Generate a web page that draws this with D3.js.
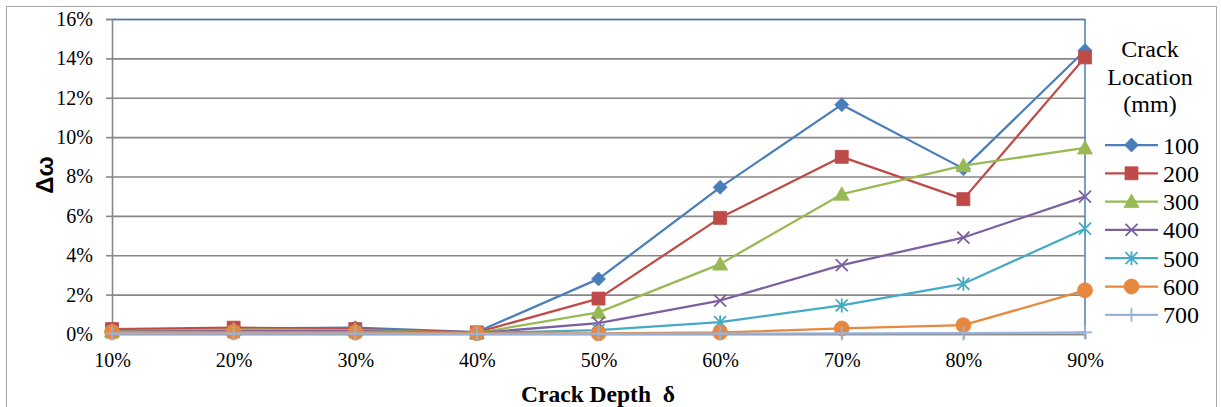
<!DOCTYPE html>
<html>
<head>
<meta charset="utf-8">
<script src="https://cdn.jsdelivr.net/npm/d3@7"></script>
<style>
  body { margin: 0; background: #fff; }
</style>
</head>
<body>
<svg id="chart" width="1221" height="407"></svg>
<script>
// crack depth categories and tick labels
const depthLabels = ['10%', '20%', '30%', '40%', '50%', '60%', '70%', '80%', '90%'];
const yTicks = [0, 0.02, 0.04, 0.06, 0.08, 0.10, 0.12, 0.14, 0.16];
const locations = ['100', '200', '300', '400', '500', '600', '700'];

// frequency change, in percent
const loc100 = [0.20, 0.28, 0.32, 0.10, 2.80, 7.45, 11.65, 8.40, 14.40];
const loc200 = [0.25, 0.32, 0.25, 0.08, 1.80, 5.90, 9.00, 6.85, 14.05];
const loc300 = [0.15, 0.22, 0.20, 0.05, 1.10, 3.55, 7.10, 8.55, 9.45];
const loc400 = [0.12, 0.15, 0.15, 0.05, 0.55, 1.70, 3.50, 4.90, 6.98];
const loc500 = [0.08, 0.10, 0.10, 0.04, 0.20, 0.60, 1.45, 2.55, 5.35];
const loc600 = [0.10, 0.10, 0.08, 0.04, 0.03, 0.08, 0.28, 0.45, 2.22];
const loc700 = [0.02, 0.02, 0.02, 0.01, 0.01, 0.02, 0.03, 0.04, 0.08];

const allSeries = [loc100, loc200, loc300, loc400, loc500, loc600, loc700];
const colors = ['#4A7EBB', '#BE4B48', '#98B954', '#7D60A0', '#46AAC5', '#E8883E', '#98B2DA'];
const markers = ['diamond', 'square', 'triangle', 'x', 'star', 'circle', 'plus'];

const serif = '"Liberation Serif", Tinos, "DejaVu Serif", "Times New Roman", serif';

const svg = d3.select('#chart');
const margin = {top: 19, right: 136, bottom: 73, left: 112};
const width = 1221 - margin.left - margin.right;
const height = 407 - margin.top - margin.bottom;

// outer chart border
svg.append('rect')
    .attr('x', 6.5).attr('y', 6.5)
    .attr('width', 1210).attr('height', 420)
    .attr('fill', 'none')
    .attr('stroke', '#a6a6a6')
    .attr('stroke-width', 1);

const x = d3.scalePoint()
    .domain(depthLabels)
    .range([0, width]);
const y = d3.scaleLinear()
    .domain([0, 0.16])
    .range([height, 0]);

const g = svg.append('g')
    .attr('transform', 'translate(' + margin.left + ',' + margin.top + ')');

// gridlines
g.append('g')
    .call(d3.axisLeft(y).tickValues(yTicks).tickSize(-width).tickFormat(''))
    .call(s => s.select('.domain').remove())
    .call(s => s.selectAll('line').attr('stroke', '#878787').attr('stroke-width', 1.6));

// plot area border (top and right)
g.append('path')
    .attr('d', 'M0,0.5H' + width + 'V' + height)
    .attr('fill', 'none')
    .attr('stroke', '#4A7EBB')
    .attr('stroke-width', 1.5);

// y axis
g.append('g')
    .call(d3.axisLeft(y).tickValues(yTicks).tickSize(6).tickPadding(13).tickFormat(d3.format('.0%')))
    .attr('font-family', serif)
    .attr('font-size', 20)
    .call(s => s.select('.domain').attr('stroke', '#878787').attr('stroke-width', 1.6))
    .call(s => s.selectAll('.tick line').attr('stroke', '#878787').attr('stroke-width', 1.6));

// x axis
g.append('g')
    .attr('transform', 'translate(0,' + height + ')')
    .call(d3.axisBottom(x).tickSize(5).tickPadding(14))
    .attr('font-family', serif)
    .attr('font-size', 20)
    .call(s => s.select('.domain').attr('stroke', '#878787').attr('stroke-width', 1.6))
    .call(s => s.selectAll('.tick line').attr('stroke', '#878787').attr('stroke-width', 1.6));

function markerPath(type) {
    const r = 7;
    switch (type) {
        case 'diamond': return 'M0,' + -r + 'L' + r + ',0L0,' + r + 'L' + -r + ',0Z';
        case 'square': return 'M-6.5,-6.5H6.5V6.5H-6.5Z';
        case 'triangle': return 'M0,-7.5L7.5,6L-7.5,6Z';
        case 'x': return 'M-6,-6L6,6M-6,6L6,-6';
        case 'star': return 'M-6,-6L6,6M-6,6L6,-6M0,-7V7';
        case 'circle': return d3.arc()({innerRadius: 0, outerRadius: 7.5, startAngle: 0, endAngle: 2 * Math.PI});
        case 'plus': return 'M-7,0H7M0,-7V7';
    }
}
const lineMarker = t => t === 'x' || t === 'star' || t === 'plus';

const line = d3.line()
    .x((d, i) => x(depthLabels[i]))
    .y(d => y(d / 100));

allSeries.forEach((values, k) => {
    const sg = g.append('g');
    sg.append('path')
        .datum(values)
        .attr('d', line)
        .attr('fill', 'none')
        .attr('stroke', colors[k])
        .attr('stroke-width', 2.25)
        .attr('stroke-linejoin', 'round');
    sg.selectAll('.mk')
        .data(values)
        .join('path')
        .attr('class', 'mk')
        .attr('transform', (d, i) => 'translate(' + x(depthLabels[i]) + ',' + y(d / 100) + ')')
        .attr('d', markerPath(markers[k]))
        .attr('fill', lineMarker(markers[k]) ? 'none' : colors[k])
        .attr('stroke', colors[k])
        .attr('stroke-width', lineMarker(markers[k]) ? 1.8 : 0.8);
});

// axis titles
svg.append('text')
    .attr('transform', 'translate(53,175) rotate(-90)')
    .attr('text-anchor', 'middle')
    .attr('font-family', '"Liberation Sans", Arial, sans-serif')
    .attr('font-weight', 'bold')
    .attr('font-size', 24)
    .text('Δω');

svg.append('text')
    .attr('x', 598).attr('y', 402)
    .attr('text-anchor', 'middle')
    .attr('font-family', serif)
    .attr('font-weight', 'bold')
    .attr('font-size', 23.5)
    .attr('xml:space', 'preserve')
    .text('Crack Depth  δ');

// legend
const legend = svg.append('g')
    .attr('font-family', serif)
    .attr('font-size', 24);
['Crack', 'Location', '(mm)'].forEach((t, i) => {
    legend.append('text')
        .attr('x', 1150).attr('y', 57 + i * 27.5)
        .attr('text-anchor', 'middle')
        .text(t);
});
locations.forEach((name, k) => {
    const cy = 145 + k * 28.3;
    const item = legend.append('g').attr('transform', 'translate(0,' + cy + ')');
    item.append('line')
        .attr('x1', 1105).attr('x2', 1158)
        .attr('stroke', colors[k]).attr('stroke-width', 2.25);
    item.append('path')
        .attr('transform', 'translate(1131.5,0)')
        .attr('d', markerPath(markers[k]))
        .attr('fill', lineMarker(markers[k]) ? 'none' : colors[k])
        .attr('stroke', colors[k])
        .attr('stroke-width', lineMarker(markers[k]) ? 1.8 : 0.8);
    item.append('text')
        .attr('x', 1163).attr('y', 8.5)
        .text(name);
});
</script>
</body>
</html>
